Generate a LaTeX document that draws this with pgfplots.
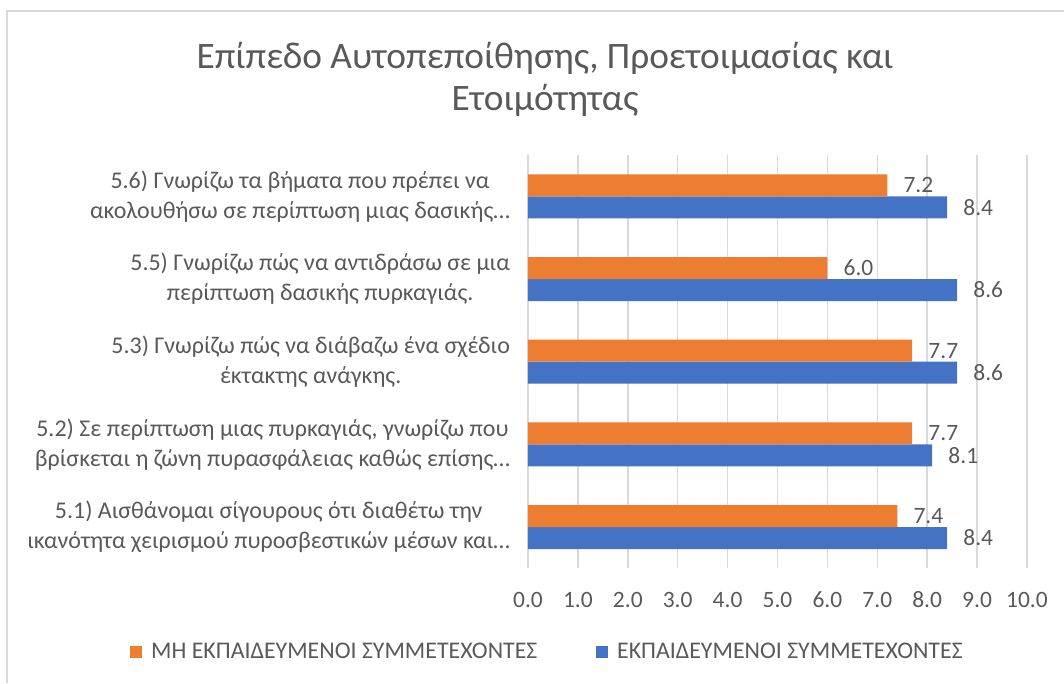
\documentclass[border=0pt]{standalone}
\usepackage{pgfplots}
\pgfplotsset{compat=1.18}
\usepackage{fontspec}
\setmainfont{Carlito}
\definecolor{cOrange}{HTML}{ED7D31}
\definecolor{cBlue}{HTML}{4472C4}
\definecolor{cText}{HTML}{595959}
\definecolor{cGrid}{HTML}{D9D9D9}
\begin{document}
\begin{tikzpicture}
\path[use as bounding box] (0,0) rectangle (798pt,512.25pt);
\draw[cGrid, line width=1.2pt] (5.25pt,0) -- (5.25pt,504pt) -- (798pt,504pt);
\node[align=center, text=cText, font=\fontsize{28}{31.5}\selectfont] at (408.75pt,453pt)
  {Επίπεδο Αυτοπεποίθησης, Προετοιμασίας και\\Ετοιμότητας};
\begin{axis}[
  at={(396pt,86pt)}, anchor=south west,
  scale only axis, width=374.25pt, height=310pt,
  /pgf/number format/assume math mode=true,
  xbar, bar width=16.5pt,
  xmin=0, xmax=10, ymin=-0.5, ymax=4.5,
  xtick={0,1,...,10},
  ytick={0,1,2,3,4},
  yticklabels={
    {5.1) Αισθάνομαι σίγουρους ότι διαθέτω την\\ικανότητα χειρισμού πυροσβεστικών μέσων και…},
    {5.2) Σε περίπτωση μιας πυρκαγιάς, γνωρίζω που\\βρίσκεται η ζώνη πυρασφάλειας καθώς επίσης…},
    {5.3) Γνωρίζω πώς να διάβαζω ένα σχέδιο\\έκτακτης ανάγκης.},
    {5.5) Γνωρίζω πώς να αντιδράσω σε μια\\περίπτωση δασικής πυρκαγιάς.},
    {5.6) Γνωρίζω τα βήματα που πρέπει να\\ακολουθήσω σε περίπτωση μιας δασικής…}},
  yticklabel style={align=center, anchor=east, xshift=-10pt, text=cText,
    font=\fontsize{18}{22.5}\selectfont},
  xticklabel style={anchor=center, yshift=-23.8pt, text=cText,
    font=\fontsize{17.6}{21}\selectfont,
    /pgf/number format/.cd, fixed, fixed zerofill, precision=1},
  major tick length=0pt,
  axis line style={draw=none},
  xmajorgrids, major grid style={cGrid, line width=1.1pt},
  nodes near coords,
  nodes near coords align={horizontal},
  every node near coord/.append style={text=cText, anchor=west, inner sep=0pt,
    xshift=12pt, font=\fontsize{17.6}{21}\selectfont,
    /pgf/number format/.cd, fixed, fixed zerofill, precision=1},
  reverse legend,
  legend columns=2,
  legend style={at={(0.037,-0.2025)}, anchor=center, draw=none, fill=none,
    inner sep=0pt, nodes={inner sep=0pt},
    text=cText, font=\fontsize{17.9}{21}\selectfont,
    /tikz/every odd column/.append style={column sep=6.75pt},
    /tikz/every even column/.append style={column sep=44pt}},
  legend image code/.code={\fill[#1, draw=none] (0pt,-4.5pt) rectangle (9pt,4.5pt);},
]
\addplot[fill=cBlue, draw=none, bar shift=-8.25pt] coordinates {(8.4,0) (8.1,1) (8.6,2) (8.6,3) (8.4,4)};
\addlegendentry{ΕΚΠΑΙΔΕΥΜΕΝΟΙ ΣΥΜΜΕΤΕΧΟΝΤΕΣ}
\addplot[fill=cOrange, draw=none, bar shift=8.25pt] coordinates {(7.4,0) (7.7,1) (7.7,2) (6.0,3) (7.2,4)};
\addlegendentry{ΜΗ ΕΚΠΑΙΔΕΥΜΕΝΟΙ ΣΥΜΜΕΤΕΧΟΝΤΕΣ}
\end{axis}
\end{tikzpicture}
\end{document}
